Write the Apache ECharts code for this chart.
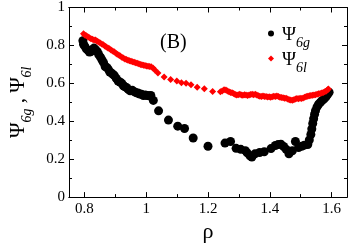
<!DOCTYPE html>
<html><head><meta charset="utf-8">
<script src="https://cdn.jsdelivr.net/npm/echarts@6/dist/echarts.min.js"></script>
<style>html,body{margin:0;padding:0;background:#fff}#c{width:349px;height:248px}</style>
</head><body><div id="c"></div>
<script>
const psi6g = [
[0.795,0.825],[0.797,0.806],[0.801,0.796],[0.806,0.782],[0.811,0.775],[0.816,0.765],[0.821,0.767],[0.826,0.779],
[0.831,0.786],[0.836,0.777],[0.842,0.767],[0.846,0.752],[0.852,0.738],[0.857,0.723],[0.862,0.709],[0.867,0.689],
[0.872,0.684],[0.877,0.675],[0.882,0.660],[0.887,0.655],[0.892,0.648],[0.897,0.641],[0.903,0.626],[0.909,0.612],
[0.915,0.607],[0.921,0.600],[0.926,0.587],[0.930,0.583],[0.936,0.578],[0.942,0.568],[0.948,0.561],[0.955,0.563],
[0.961,0.556],[0.967,0.551],[0.973,0.549],[0.979,0.544],[0.985,0.542],[0.991,0.536],[0.997,0.539],[1.003,0.536],
[1.009,0.534],[1.015,0.536],[1.023,0.510],[1.040,0.455],[1.072,0.406],[1.102,0.374],[1.124,0.362],[1.152,0.312],
[1.200,0.268],[1.255,0.285],[1.273,0.293],[1.291,0.257],[1.306,0.252],[1.321,0.245],[1.327,0.233],[1.336,0.218],
[1.342,0.211],[1.352,0.228],[1.367,0.235],[1.382,0.239],[1.404,0.256],[1.418,0.272],[1.427,0.277],[1.436,0.279],
[1.445,0.267],[1.453,0.252],[1.462,0.228],[1.473,0.244],[1.483,0.293],[1.493,0.261],[1.503,0.268],[1.512,0.274],
[1.523,0.277],[1.528,0.301],[1.533,0.330],[1.536,0.359],[1.539,0.388],[1.542,0.413],[1.545,0.437],[1.548,0.456],
[1.553,0.476],[1.558,0.490],[1.564,0.500],[1.570,0.510],[1.576,0.519],[1.582,0.529],[1.588,0.544],[1.592,0.553]
];
const psi6l = [
[0.797,0.862],[0.801,0.855],[0.806,0.851],[0.811,0.846],[0.816,0.840],[0.821,0.835],[0.826,0.832],[0.831,0.828],
[0.836,0.829],[0.841,0.822],[0.846,0.818],[0.851,0.813],[0.856,0.808],[0.861,0.803],[0.866,0.797],[0.871,0.792],
[0.876,0.786],[0.881,0.782],[0.886,0.776],[0.891,0.771],[0.896,0.766],[0.901,0.760],[0.906,0.754],[0.911,0.749],
[0.916,0.744],[0.921,0.738],[0.926,0.733],[0.931,0.729],[0.936,0.726],[0.941,0.722],[0.946,0.719],[0.951,0.716],
[0.956,0.714],[0.961,0.711],[0.966,0.709],[0.971,0.706],[0.976,0.703],[0.981,0.700],[0.986,0.698],[0.991,0.696],
[0.996,0.694],[1.001,0.692],[1.006,0.690],[1.011,0.689],[1.016,0.688],[1.022,0.681],[1.028,0.671],[1.038,0.654],
[1.058,0.633],[1.079,0.620],[1.099,0.612],[1.114,0.603],[1.129,0.600],[1.145,0.592],[1.165,0.579],[1.188,0.571],
[1.215,0.557],[1.240,0.556],[1.246,0.560],[1.252,0.566],[1.258,0.565],[1.263,0.560],[1.268,0.556],[1.273,0.552],
[1.278,0.550],[1.283,0.546],[1.288,0.541],[1.293,0.538],[1.298,0.540],[1.303,0.542],[1.308,0.539],[1.313,0.537],
[1.318,0.540],[1.323,0.538],[1.328,0.536],[1.333,0.538],[1.338,0.541],[1.343,0.542],[1.348,0.540],[1.353,0.543],
[1.358,0.538],[1.363,0.534],[1.368,0.532],[1.373,0.530],[1.378,0.533],[1.383,0.531],[1.388,0.530],[1.393,0.528],
[1.398,0.529],[1.403,0.527],[1.408,0.529],[1.413,0.532],[1.418,0.531],[1.423,0.533],[1.428,0.530],[1.433,0.527],
[1.438,0.525],[1.443,0.524],[1.448,0.522],[1.453,0.521],[1.458,0.518],[1.463,0.514],[1.468,0.512],[1.473,0.511],
[1.478,0.514],[1.483,0.517],[1.488,0.520],[1.493,0.519],[1.498,0.521],[1.503,0.520],[1.508,0.523],[1.513,0.527],
[1.518,0.530],[1.523,0.532],[1.528,0.534],[1.533,0.536],[1.538,0.537],[1.543,0.538],[1.548,0.540],[1.553,0.543],
[1.558,0.545],[1.563,0.547],[1.568,0.549],[1.573,0.552],[1.578,0.555],[1.583,0.560],[1.587,0.566],[1.590,0.570]
];
const xMajorTicks = [0.8, 1.0, 1.2, 1.4, 1.6];
const xMinorTicks = [0.9, 1.1, 1.3, 1.5];
const xLabels = ['0.8', '1', '1.2', '1.4', '1.6'];

const FONT = 'Liberation Serif';
const line = {color: '#000', width: 1};
const chart = echarts.init(document.getElementById('c'), null, {renderer: 'canvas'});
function xAx(pos, ticks, len, main) {
  return {
    type: 'value', position: pos, min: 0.75, max: 1.65,
    axisLine: {show: true, onZero: false, lineStyle: line},
    axisTick: {show: true, inside: true, length: len, customValues: ticks, lineStyle: line},
    axisLabel: main ? {show: true, customValues: xMajorTicks, margin: 4,
      formatter: v => xLabels[xMajorTicks.findIndex(t => Math.abs(t - v) < 1e-6)],
      color: '#000', fontFamily: FONT, fontSize: 15} : {show: false},
    splitLine: {show: false},
    name: main ? 'ρ' : '', nameLocation: 'middle', nameGap: 13,
    nameTextStyle: {fontFamily: FONT, fontSize: 22, color: '#000'}
  };
}
function yAx(pos, main) {
  return {
    type: 'value', position: pos, min: 0, max: 1, interval: 0.2,
    axisLine: {show: true, onZero: false, lineStyle: line},
    axisTick: {show: true, inside: true, length: 5, lineStyle: line},
    minorTick: {show: true, splitNumber: 2, length: 3, lineStyle: line},
    axisLabel: main ? {show: true, margin: 4, color: '#000', fontFamily: FONT, fontSize: 15} : {show: false},
    splitLine: {show: false},
    name: main ? '{p|Ψ}{s|6g}{p| , Ψ}{s|6l}' : '', nameLocation: 'middle', nameGap: 45, nameRotate: 90,
    nameTextStyle: {fontFamily: FONT, color: '#000',
      rich: {p: {fontFamily: FONT, fontSize: 21, lineHeight: 16, verticalAlign: 'top', color: '#000'},
             s: {fontFamily: FONT, fontSize: 14, fontStyle: 'italic', lineHeight: 10, padding: [12,0,0,0], verticalAlign: 'top', color: '#000'}}}
  };
}
chart.setOption({
  animation: false,
  backgroundColor: '#fff',
  grid: {left: 53, right: 2, top: 6, bottom: 36},
  xAxis: [xAx('bottom', xMajorTicks, 5, true), xAx('bottom', xMinorTicks, 3, false),
          xAx('top', xMajorTicks, 5, false), xAx('top', xMinorTicks, 3, false)],
  yAxis: [yAx('left', true), yAx('right', false)],
  legend: {
    orient: 'vertical', left: 263, top: 21, itemGap: 1, itemWidth: 6, itemHeight: 6,
    data: ['psi6g', 'psi6l'],
    formatter: n => n === 'psi6g' ? '{p|Ψ}{s|6g}' : '{p|Ψ}{s|6l}',
    textStyle: {fontFamily: FONT, color: '#000',
      rich: {p: {fontFamily: FONT, fontSize: 19, lineHeight: 15, padding: [0,0,0,3], verticalAlign: 'top', color: '#000'},
             s: {fontFamily: FONT, fontSize: 14, fontStyle: 'italic', lineHeight: 10, padding: [10,0,0,0], verticalAlign: 'top', color: '#000'}}}
  },
  graphic: [{type: 'text', left: 160, top: 33, style: {text: '(B)', font: '20px "Liberation Serif"', fill: '#000'}}],
  series: [
    {name: 'psi6g', type: 'scatter', data: psi6g, symbol: 'circle', symbolSize: 9,
     itemStyle: {color: '#000', opacity: 1}},
    {name: 'psi6l', type: 'scatter', data: psi6l, symbol: 'diamond', symbolSize: 7,
     itemStyle: {color: '#ff0000', opacity: 1}}
  ]
});
</script></body></html>
